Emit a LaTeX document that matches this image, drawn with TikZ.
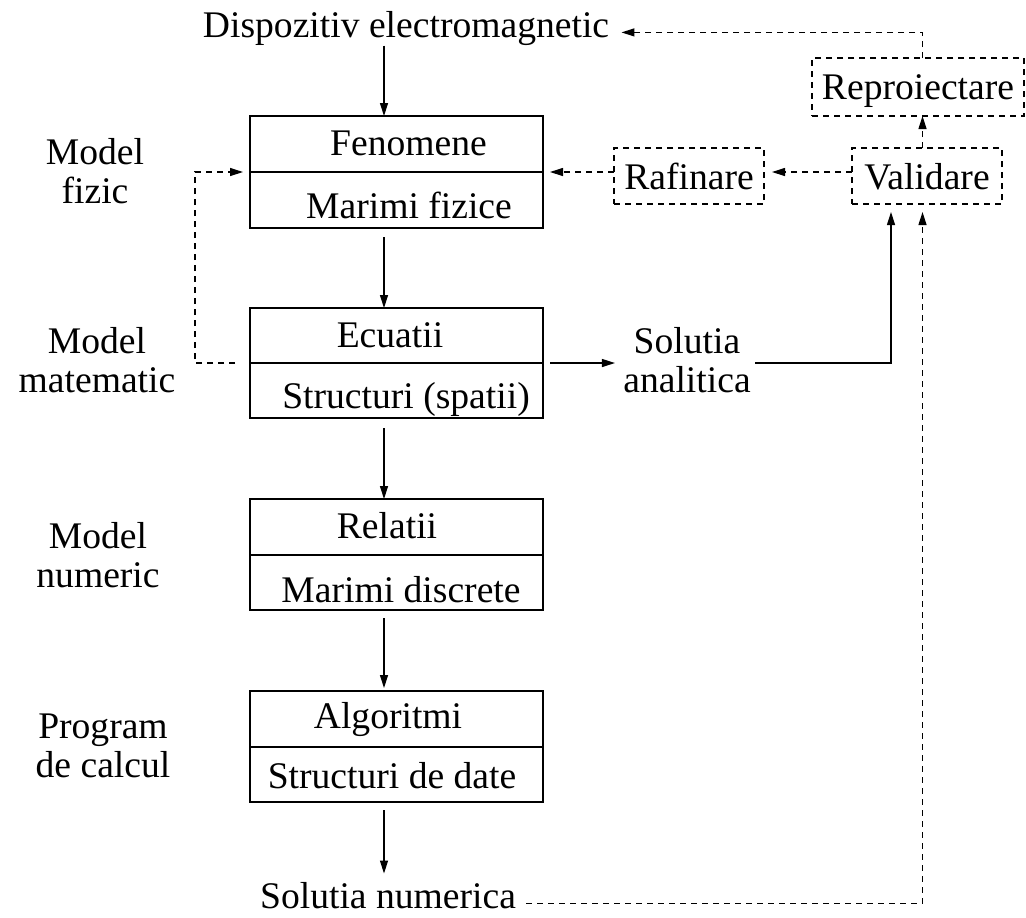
\documentclass[tikz,border=0pt]{standalone}
\usepackage{fontspec}
\setmainfont{Liberation Serif}
\usetikzlibrary{arrows.meta,calc}
\begin{document}
\begin{tikzpicture}[x=0.5pt,y=-0.5pt,
  every node/.style={font=\fontsize{18.8}{19.3}\selectfont},
  txt/.style={inner sep=0pt, anchor=base},
  half/.style={draw, line width=0.6pt, minimum width=146.5pt, inner sep=0pt, outer sep=0pt},
  dbox/.style={draw, dash pattern=on 3pt off 2.5pt, line width=0.6pt, inner sep=0pt, outer sep=0pt, text depth=0pt},
  arr/.style={line width=0.6pt, -{Triangle[length=6.5pt,width=4pt]}},
  darr/.style={arr, dash pattern=on 3pt off 2.5pt},
]
\useasboundingbox (0,0) rectangle (1026,917);

% boxes (two halves each)
\node[half, minimum height=28pt]   (b1t) at (396.5,144) {};
\node[half, minimum height=28pt]   (b1b) at (396.5,200) {};
\node[half, minimum height=27.5pt] (b2t) at (396.5,335.5) {};
\node[half, minimum height=27.5pt] (b2b) at (396.5,390.5) {};
\node[half, minimum height=28pt]   (b3t) at (396.5,527) {};
\node[half, minimum height=27.5pt] (b3b) at (396.5,582.5) {};
\node[half, minimum height=28pt]   (b4t) at (396.5,719) {};
\node[half, minimum height=27.5pt] (b4b) at (396.5,774.5) {};

% box texts
\node[txt] (t1a) at (408.5,155) {Fenomene};
\node[txt] (t1b) at (409,218) {Marimi fizice};
\node[txt] (t2a) at (390,347) {Ecuatii};
\node[txt] (t2b) at (406,408) {Structuri (spatii)};
\node[txt] (t3a) at (387,538) {Relatii};
\node[txt] (t3b) at (401,602) {Marimi discrete};
\node[txt] (t4a) at (388,728) {Algoritmi};
\node[txt] (t4b) at (392,788) {Structuri de date};

% top / bottom texts
\node[txt] (d) at (406,37) {Dispozitiv electromagnetic};
\node[txt] (sn) at (388,908) {Solutia numerica};
\node[txt, align=center] (sa) at (687,392) {Solutia\\analitica};

% left labels
\node[txt, align=center] (l1) at (95,203) {Model\\fizic};
\node[txt, align=center] (l2) at (97,392) {Model\\matematic};
\node[txt, align=center] (l3) at (98,587) {Model\\numeric};
\node[txt, align=center] (l4) at (103,777) {Program\\de calcul};

% dashed boxes
\node[dbox, minimum width=75pt, minimum height=28pt] (rf) at (689,176) {Rafinare};
\node[dbox, minimum width=75pt, minimum height=28pt] (va) at (927,176) {Validare};
\node[dbox, minimum width=106pt, minimum height=29pt] (rp) at (918,87) {Reproiectare};

\coordinate (ax) at (384,0);
\coordinate (cx) at (922.5,0);

% main column
\draw[arr] (d.south -| ax) -- (b1t.north -| ax);
\draw[arr, shorten <=4.5pt] (b1b.south -| ax) -- (b2t.north -| ax);
\draw[arr, shorten <=5pt] (b2b.south -| ax) -- (b3t.north -| ax);
\draw[arr, shorten <=4pt, shorten >=1.5pt] (b3b.south -| ax) -- (b4t.north -| ax);
\draw[arr, shorten <=4pt, shorten >=4pt] (b4b.south -| ax) -- (sn.north -| ax);

% feedback loops
\draw[darr] ($(b2t.south west)+(-15,0)$) -- ++(-40,0) |- ($(b1t.south west)+(-7,0)$);
\draw[darr] (rf.west |- b1t.south) -- ($(b1t.south east)+(7,0)$);
\draw[darr] (va.west |- b1t.south) -- ($(rf.east |- b1t.south)+(8,0)$);
\draw[darr] (va.north -| cx) -- (rp.south -| cx);
\draw[darr] (rp.north -| cx) |- ($(d.mid east)+(12,0)$);

% solutions
\draw[arr] ($(b2t.south east)+(7,0)$) -- ($(sa.west |- b2t.south)+(-8,0)$);
\draw[arr, shorten >=4pt] ($(sa.east |- b2t.south)+(4,0)$) -| ($(va.south)+(-36,0)$);
\draw[darr, shorten >=4pt] ($(sn.mid east)+(10,0)$) -| (va.south -| cx);
\end{tikzpicture}
\end{document}
